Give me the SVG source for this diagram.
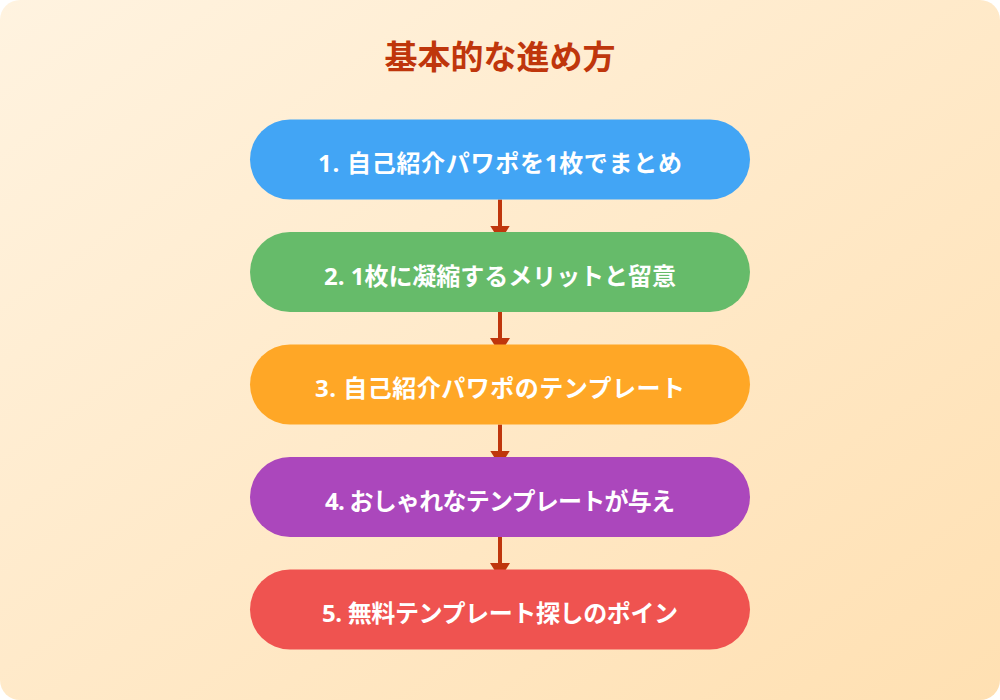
<svg xmlns="http://www.w3.org/2000/svg" width="1000" height="700" viewBox="0 0 1000 700">
<defs>
<linearGradient id="bg" x1="0" y1="0" x2="1" y2="1">
<stop offset="0" stop-color="#FFF3E0"/>
<stop offset="1" stop-color="#FFE0B2"/>
</linearGradient>
<marker id="arr" markerUnits="userSpaceOnUse" markerWidth="16" markerHeight="20" viewBox="0 0 16 20" refX="6" refY="10" orient="auto">
<path d="M0,0 L16,10 L0,20 z" fill="#BF360C"/>
</marker>
<style>
.title{font-family:"Noto Sans CJK JP","Noto Sans",sans-serif;font-size:33px;font-weight:bold;fill:#BF360C}
.lbl{font-family:"Open Sans","Noto Sans CJK JP",sans-serif;font-size:24px;font-weight:bold;fill:#FFFFFF}
.conn{stroke:#BF360C;stroke-width:4;fill:none}
</style>
</defs>
<rect width="1000" height="700" fill="#FFFFFF"/>
<rect width="1000" height="700" rx="20" ry="20" fill="url(#bg)"/>
<text class="title" x="500" y="55" text-anchor="middle" dominant-baseline="central">基本的な進め方</text>
<g id="connectors">
<line class="conn" x1="500" y1="199.5" x2="500" y2="231.5" marker-end="url(#arr)"/>
<line class="conn" x1="500" y1="312" x2="500" y2="344" marker-end="url(#arr)"/>
<line class="conn" x1="500" y1="424.5" x2="500" y2="456.5" marker-end="url(#arr)"/>
<line class="conn" x1="500" y1="537" x2="500" y2="569" marker-end="url(#arr)"/>
</g>
<g id="node1">
<rect x="250" y="119.5" width="500" height="80" rx="40" fill="#42A5F5"/>
<text class="lbl" x="500" y="162.5" text-anchor="middle" dominant-baseline="central" textLength="364" lengthAdjust="spacing">1. 自己紹介パワポを1枚でまとめ</text>
</g>
<g id="node2">
<rect x="250" y="232" width="500" height="80" rx="40" fill="#66BB6A"/>
<text class="lbl" x="500" y="275" text-anchor="middle" dominant-baseline="central" textLength="352" lengthAdjust="spacing">2. 1枚に凝縮するメリットと留意</text>
</g>
<g id="node3">
<rect x="250" y="344.5" width="500" height="80" rx="40" fill="#FFA726"/>
<text class="lbl" x="500" y="387.5" text-anchor="middle" dominant-baseline="central" textLength="370" lengthAdjust="spacing">3. 自己紹介パワポのテンプレート</text>
</g>
<g id="node4">
<rect x="250" y="457" width="500" height="80" rx="40" fill="#AB47BC"/>
<text class="lbl" x="500" y="500" text-anchor="middle" dominant-baseline="central" textLength="350" lengthAdjust="spacing">4. おしゃれなテンプレートが与え</text>
</g>
<g id="node5">
<rect x="250" y="569.5" width="500" height="80" rx="40" fill="#EF5350"/>
<text class="lbl" x="500" y="612.5" text-anchor="middle" dominant-baseline="central" textLength="356" lengthAdjust="spacing">5. 無料テンプレート探しのポイン</text>
</g>
</svg>
